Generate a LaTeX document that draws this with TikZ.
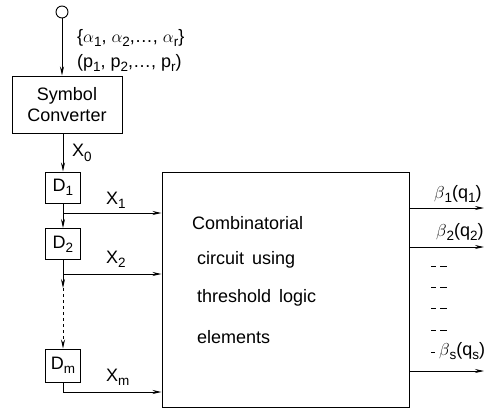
\documentclass[tikz,border=0pt]{standalone}
\usepackage{fontspec}
\setmainfont{Liberation Sans}
\usetikzlibrary{arrows.meta}
\newcommand{\lo}[1]{\raisebox{-0.45ex}{\fontsize{13.5}{13.5}\selectfont #1}}

\begin{document}
\begin{tikzpicture}[x=1pt,y=-1pt,
  every node/.style={font=\fontsize{18}{21}\selectfont},
  blk/.style={draw,line width=1pt,inner sep=0pt},
  lbl/.style={inner sep=0pt},
  wire/.style={line width=0.9pt},
  >={Stealth[length=9pt,width=4pt]}]
\useasboundingbox (0,0) rectangle (498,408);
% source and converter
\node[draw,line width=0.9pt,circle,minimum size=12pt,inner sep=0pt] (src) at (62,12) {};
\node[lbl,anchor=west] (alph) at (77,38) {\{$\alpha$\lo{1}, $\alpha$\lo{2},\dots, $\alpha$\lo{r}\}};
\node[lbl,anchor=west] (prob) at (77,63) {(p\lo{1}, p\lo{2},\dots, p\lo{r})};
\node[blk,minimum width=110pt,minimum height=57pt,align=center] (conv) at (67,104.5) {Symbol\\[0pt]Converter};
\draw[wire,->] (src.south) -- (src.south |- conv.north);
% delay chain
\node[blk,minimum width=35pt,minimum height=31pt] (d1) at (63,187.5) {D\lo{1}};
\node[blk,minimum width=35pt,minimum height=31pt] (d2) at (63,244) {D\lo{2}};
\node[blk,minimum width=35pt,minimum height=33pt] (dm) at (63,365.5) {D\lo{m}};
\node[lbl,anchor=west] (x0) at (72,153) {X\lo{0}};
\draw[wire,->] (conv.south -| d1.north) -- (d1.north);
% combinatorial circuit
\node[blk,minimum width=247pt,minimum height=235pt] (comb) at (285.5,289.5) {};
\node[lbl,anchor=west] (t1) at (192,223) {Combinatorial};
\node[lbl,anchor=west] (t2) at (197,260) {circuit\, using};
\node[lbl,anchor=west] (t3) at (197,298) {threshold\, logic};
\node[lbl,anchor=west] (t4) at (197,337) {elements};
% inputs
\coordinate (b1) at (63,213);
\coordinate (b2) at (63,274);
\coordinate (bh) at (63,288);
\coordinate (bm) at (63,392);
\draw[wire,->] (d1.south) -- (d2.north);
\draw[wire,->] (b1) -- (b1 -| comb.west);
\draw[wire,->] (d2.south) -- (bh);
\draw[wire,dashed,->] (bh) -- (dm.north);
\draw[wire,->] (b2) -- (b2 -| comb.west);
\draw[wire,->] (dm.south) -- (bm) -- (bm -| comb.west);
\node[lbl,anchor=west] (x1) at (106,200) {X\lo{1}};
\node[lbl,anchor=west] (x2) at (106,259) {X\lo{2}};
\node[lbl,anchor=west] (xm) at (106,377) {X\lo{m}};
% outputs
\coordinate (o1) at (484,208);
\coordinate (o2) at (484,247);
\coordinate (os) at (484,371);
\draw[wire,->] (o1 -| comb.east) -- (o1);
\draw[wire,->] (o2 -| comb.east) -- (o2);
\draw[wire,->] (os -| comb.east) -- (os);
\node[lbl,anchor=west] (y1) at (434,194) {$\beta$\lo{1}(q\lo{1})};
\node[lbl,anchor=west] (y2) at (436,232) {$\beta$\lo{2}(q\lo{2})};
\node[lbl,anchor=west] (ys) at (439,351) {$\beta$\lo{s}(q\lo{s})};
\foreach \y in {266,287,308,330}
  \draw[wire] (431,\y) -- (436,\y) (440,\y) -- (447,\y);
\draw[wire] (431,352) -- (435,352);
\end{tikzpicture}
\end{document}
